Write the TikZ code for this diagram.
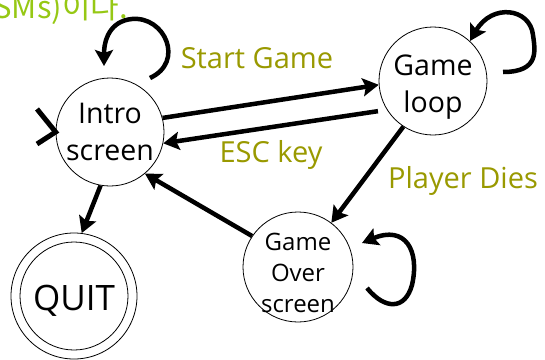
\documentclass[tikz,border=0pt]{standalone}
\usepackage{fontspec}
\setmainfont{Open Sans}
\newfontfamily\krfont{Noto Sans CJK KR}
\usetikzlibrary{arrows.meta}
\definecolor{lblolive}{RGB}{153,153,0}
\definecolor{topgreen}{RGB}{150,200,20}
\tikzset{
  state/.style={circle, draw, line width=0.8pt, minimum size=108pt, inner sep=0pt},
  stxt/.style={align=center, inner sep=0pt, font=\fontsize{28.5}{37}\selectfont},
  arr/.style={line width=4.5pt, -{Stealth[length=16pt,width=18pt,inset=3pt]}},
  lbl/.style={text=lblolive, inner sep=0pt, anchor=base, font=\fontsize{29}{34}\selectfont},
}
\begin{document}
\begin{tikzpicture}[x=1pt,y=-1pt]
\useasboundingbox (0,0) rectangle (545,359);
% top cropped text
\node[anchor=base east, inner sep=0pt, text=topgreen, font=\krfont\fontsize{31}{36}\selectfont] (toptxt) at (128,18) {(FSMs)이다.};
% states
\node[state] (intro) at (110,132) {};
\node[stxt] (introT) at (110,132) {Intro\\screen};
\node[state] (gloop) at (433,81) {};
\node[stxt] (gloopT) at (433,87) {Game\\loop};
\node[state, minimum size=110pt] (gover) at (298,267) {};
\node[stxt, font=\fontsize{24}{31}\selectfont] (goverT) at (298,273) {Game\\Over\\screen};
\node[state, minimum size=126pt] (quit) at (74,296) {};
\draw[line width=0.8pt] (quit.center) circle[radius=54pt];
\node[inner sep=0pt, anchor=base, font=\fontsize{35}{40}\selectfont] (quitT) at (74,310) {QUIT};
% transitions
\draw[arr] (intro.15) -- (gloop.184);
\draw[arr, shorten <=9pt] (gloop.212) -- (intro.-12);
\draw[arr] (gloop.237) -- (gover.53);
\draw[arr] (gover.146) -- (intro.-50);
\draw[arr] (intro.-100) -- (quit.83);
% initial chevron
\coordinate (ch1) at (37,109);
\coordinate (ch3) at (37,144);
\draw[line width=5pt, miter limit=10] (ch1) -- (intro.west) -- (ch3);
% self loops
\coordinate (il1) at (150,78);
\coordinate (il2) at (104,66);
\draw[arr] (il1) .. controls (185,62) and (165,16) .. (132,19) .. controls (110,21) and (104,40) .. (il2);
\coordinate (gl1) at (503,72);
\coordinate (gl2) at (470,41);
\draw[arr] (gl1) .. controls (540,72) and (535,50) .. (533,35) .. controls (530,8) and (492,3) .. (gl2);
\coordinate (ol1) at (367,288);
\coordinate (ol2) at (362,243);
\draw[arr] (ol1) .. controls (385,310) and (405,310) .. (412,285) .. controls (420,250) and (405,225) .. (ol2);
% labels
\node[lbl] (lstart) at (257,68) {Start Game};
\node[lbl] (lesc) at (271,162) {ESC key};
\node[lbl] (ldies) at (463,188) {Player Dies};
\end{tikzpicture}
\end{document}
